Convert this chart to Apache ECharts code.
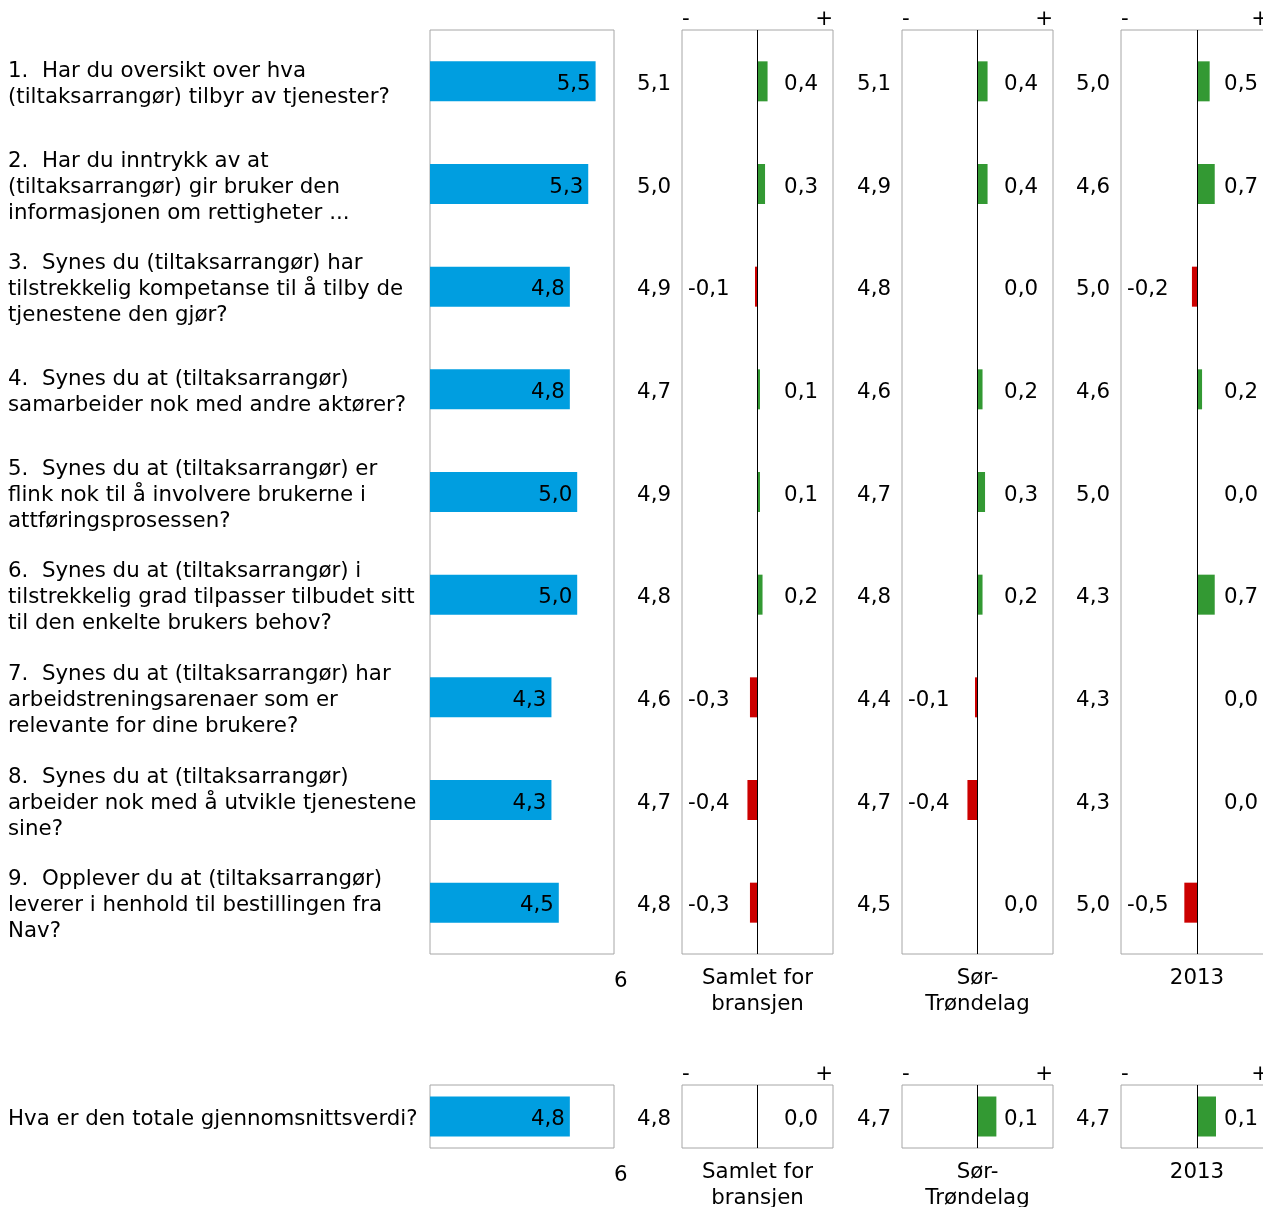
<!DOCTYPE html>
<html><head><meta charset="utf-8">
<script src="https://cdn.jsdelivr.net/npm/echarts@6/dist/echarts.min.js"></script>
<style>html,body{margin:0;padding:0;background:#fff}#c{width:1263px;height:1207px}</style>
</head><body><div id="c"></div>
<script>
const questions = [
  '1.  Har du oversikt over hva\n(tiltaksarrangør) tilbyr av tjenester?',
  '2.  Har du inntrykk av at\n(tiltaksarrangør) gir bruker den\ninformasjonen om rettigheter ...',
  '3.  Synes du (tiltaksarrangør) har\ntilstrekkelig kompetanse til å tilby de\ntjenestene den gjør?',
  '4.  Synes du at (tiltaksarrangør)\nsamarbeider nok med andre aktører?',
  '5.  Synes du at (tiltaksarrangør) er\nflink nok til å involvere brukerne i\nattføringsprosessen?',
  '6.  Synes du at (tiltaksarrangør) i\ntilstrekkelig grad tilpasser tilbudet sitt\ntil den enkelte brukers behov?',
  '7.  Synes du at (tiltaksarrangør) har\narbeidstreningsarenaer som er\nrelevante for dine brukere?',
  '8.  Synes du at (tiltaksarrangør)\narbeider nok med å utvikle tjenestene\nsine?',
  '9.  Opplever du at (tiltaksarrangør)\nleverer i henhold til bestillingen fra\nNav?'
];
const scores = [5.5, 5.3, 4.8, 4.8, 5.0, 5.0, 4.3, 4.3, 4.5];
const panelNames = ['Samlet for\nbransjen', 'Sør-\nTrøndelag', '2013'];
const compareSamlet = [5.1, 5.0, 4.9, 4.7, 4.9, 4.8, 4.6, 4.7, 4.8];
const compareSor = [5.1, 4.9, 4.8, 4.6, 4.7, 4.8, 4.4, 4.7, 4.5];
const compare2013 = [5.0, 4.6, 5.0, 4.6, 5.0, 4.3, 4.3, 4.3, 5.0];
const diffSamlet = [0.4, 0.3, -0.1, 0.1, 0.1, 0.2, -0.3, -0.4, -0.3];
const diffSor = [0.4, 0.4, 0.0, 0.2, 0.3, 0.2, -0.1, -0.4, 0.0];
const diff2013 = [0.5, 0.7, -0.2, 0.2, 0.0, 0.7, 0.0, 0.0, -0.5];
const totalQuestion = ['Hva er den totale gjennomsnittsverdi?'];
const totalScore = [4.8];
const totalCompare = [4.8, 4.7, 4.7];
const totalDiff = [0.0, 0.1, 0.1];

const FONT = 'DejaVu Sans';
const FS = 21.33;
const fmt = v => v.toFixed(1).replace('.', ',').replace('-0,0', '0,0');
const grids = [], xAxes = [], yAxes = [], series = [];
const panelLeft = [682, 902, 1121];
const panelWidth = [151, 151, 152];
const txt = {color: '#000', fontFamily: FONT, fontSize: FS};
const rich = {
  m: {color: '#000', fontFamily: FONT, fontSize: FS, lineHeight: 26, padding: [6, 0, 0, 0]},
  pl: {color: '#000', fontFamily: FONT, fontSize: FS, padding: [0, 4, 0, 0]}
};
const wrap = s => s === '' ? '' : s.split('\n').map(l => '{m|' + l + '}').join('\n');
const mid = Object.assign({rich: rich}, txt);

function addSection(top, height, cats, sc, comps, dfs, dMax) {
  let gi = grids.length;
  grids.push({left: 430, top: top, width: 184, height: height, show: true, borderColor: '#a6a6a6', borderWidth: 1, backgroundColor: 'transparent', outerBoundsMode: 'none'});
  xAxes.push({gridIndex: gi, type: 'value', min: 1, max: 6, splitLine: {show: false}, axisLine: {show: false}, axisTick: {show: false},
    axisLabel: Object.assign({formatter: v => v === 6 ? '6' : '', showMaxLabel: true, align: 'left', margin: 17}, txt)});
  yAxes.push({gridIndex: gi, type: 'category', inverse: true, data: cats, axisLine: {show: false}, axisTick: {show: false},
    axisLabel: Object.assign({margin: 422, align: 'left', formatter: v => wrap(v)}, mid)});
  series.push({type: 'bar', xAxisIndex: xAxes.length - 1, yAxisIndex: yAxes.length - 1, data: sc, barWidth: 40,
    itemStyle: {color: '#009ee0'},
    label: Object.assign({show: true, position: 'insideRight', distance: 5, formatter: q => wrap(fmt(q.value))}, mid)});

  for (let p = 0; p < 3; p++) {
    const comp = comps[p], df = dfs[p];
    gi = grids.length;
    grids.push({left: panelLeft[p], top: top, width: panelWidth[p], height: height, show: true, borderColor: '#a6a6a6', borderWidth: 1, backgroundColor: 'transparent', outerBoundsMode: 'none'});
    const xTop = xAxes.length;
    const plus = p === 2 ? '{pl|+}' : '+';
    xAxes.push({gridIndex: gi, type: 'value', position: 'top', min: -dMax, max: dMax, interval: dMax, splitLine: {show: false}, axisLine: {show: false}, axisTick: {show: false},
      axisLabel: Object.assign({formatter: v => v < 0 ? '-' : (v > 0 ? plus : ''), showMinLabel: true, showMaxLabel: true, alignMinLabel: 'left', alignMaxLabel: 'right', margin: 0, rich: rich}, txt)});
    xAxes.push({gridIndex: gi, type: 'value', position: 'bottom', min: -dMax, max: dMax, interval: dMax, splitLine: {show: false}, axisLine: {show: false}, axisTick: {show: false},
      axisLabel: {show: false}, name: panelNames[p], nameLocation: 'middle', nameGap: 11,
      nameTextStyle: Object.assign({lineHeight: 26, verticalAlign: 'top', align: 'center'}, txt)});
    const yLeft = yAxes.length;
    yAxes.push({gridIndex: gi, type: 'category', position: 'left', inverse: true, data: cats, axisLine: {show: false}, axisTick: {show: false},
      axisLabel: Object.assign({margin: 11, formatter: (v, i) => wrap(fmt(comp[i]))}, mid)});
    yAxes.push({gridIndex: gi, type: 'category', position: 'right', inverse: true, data: cats, axisLine: {show: false}, axisTick: {show: false},
      axisLabel: Object.assign({inside: true, margin: 15, formatter: (v, i) => df[i] >= 0 ? wrap(fmt(df[i])) : ''}, mid)});
    series.push({type: 'bar', xAxisIndex: xTop, yAxisIndex: yLeft, data: df, barWidth: 40,
      itemStyle: {color: q => q.value < 0 ? '#cc0000' : '#339933'},
      markLine: {silent: true, symbol: ['none', 'none'], label: {show: false}, lineStyle: {color: '#000', width: 1, type: 'solid'}, data: [{xAxis: 0}]}});
    // overlay grid for negative difference labels
    const gj = grids.length;
    grids.push({left: panelLeft[p], top: top, width: panelWidth[p], height: height, show: false, outerBoundsMode: 'none'});
    xAxes.push({gridIndex: gj, type: 'value', min: -dMax, max: dMax, interval: dMax, show: false});
    yAxes.push({gridIndex: gj, type: 'category', position: 'left', inverse: true, data: cats, axisLine: {show: false}, axisTick: {show: false},
      axisLabel: Object.assign({inside: true, margin: 6, formatter: (v, i) => df[i] < 0 ? wrap(fmt(df[i])) : ''}, mid)});
  }
}

addSection(30, 924, questions, scores, [compareSamlet, compareSor, compare2013], [diffSamlet, diffSor, diff2013], 3);
addSection(1085, 63, totalQuestion, totalScore, totalCompare.map(v => [v]), totalDiff.map(v => [v]), 0.4);

const chart = echarts.init(document.getElementById('c'), null, {renderer: 'canvas'});
chart.setOption({
  animation: false,
  backgroundColor: '#fff',
  textStyle: {fontFamily: FONT},
  grid: grids, xAxis: xAxes, yAxis: yAxes, series: series
});
</script></body></html>
